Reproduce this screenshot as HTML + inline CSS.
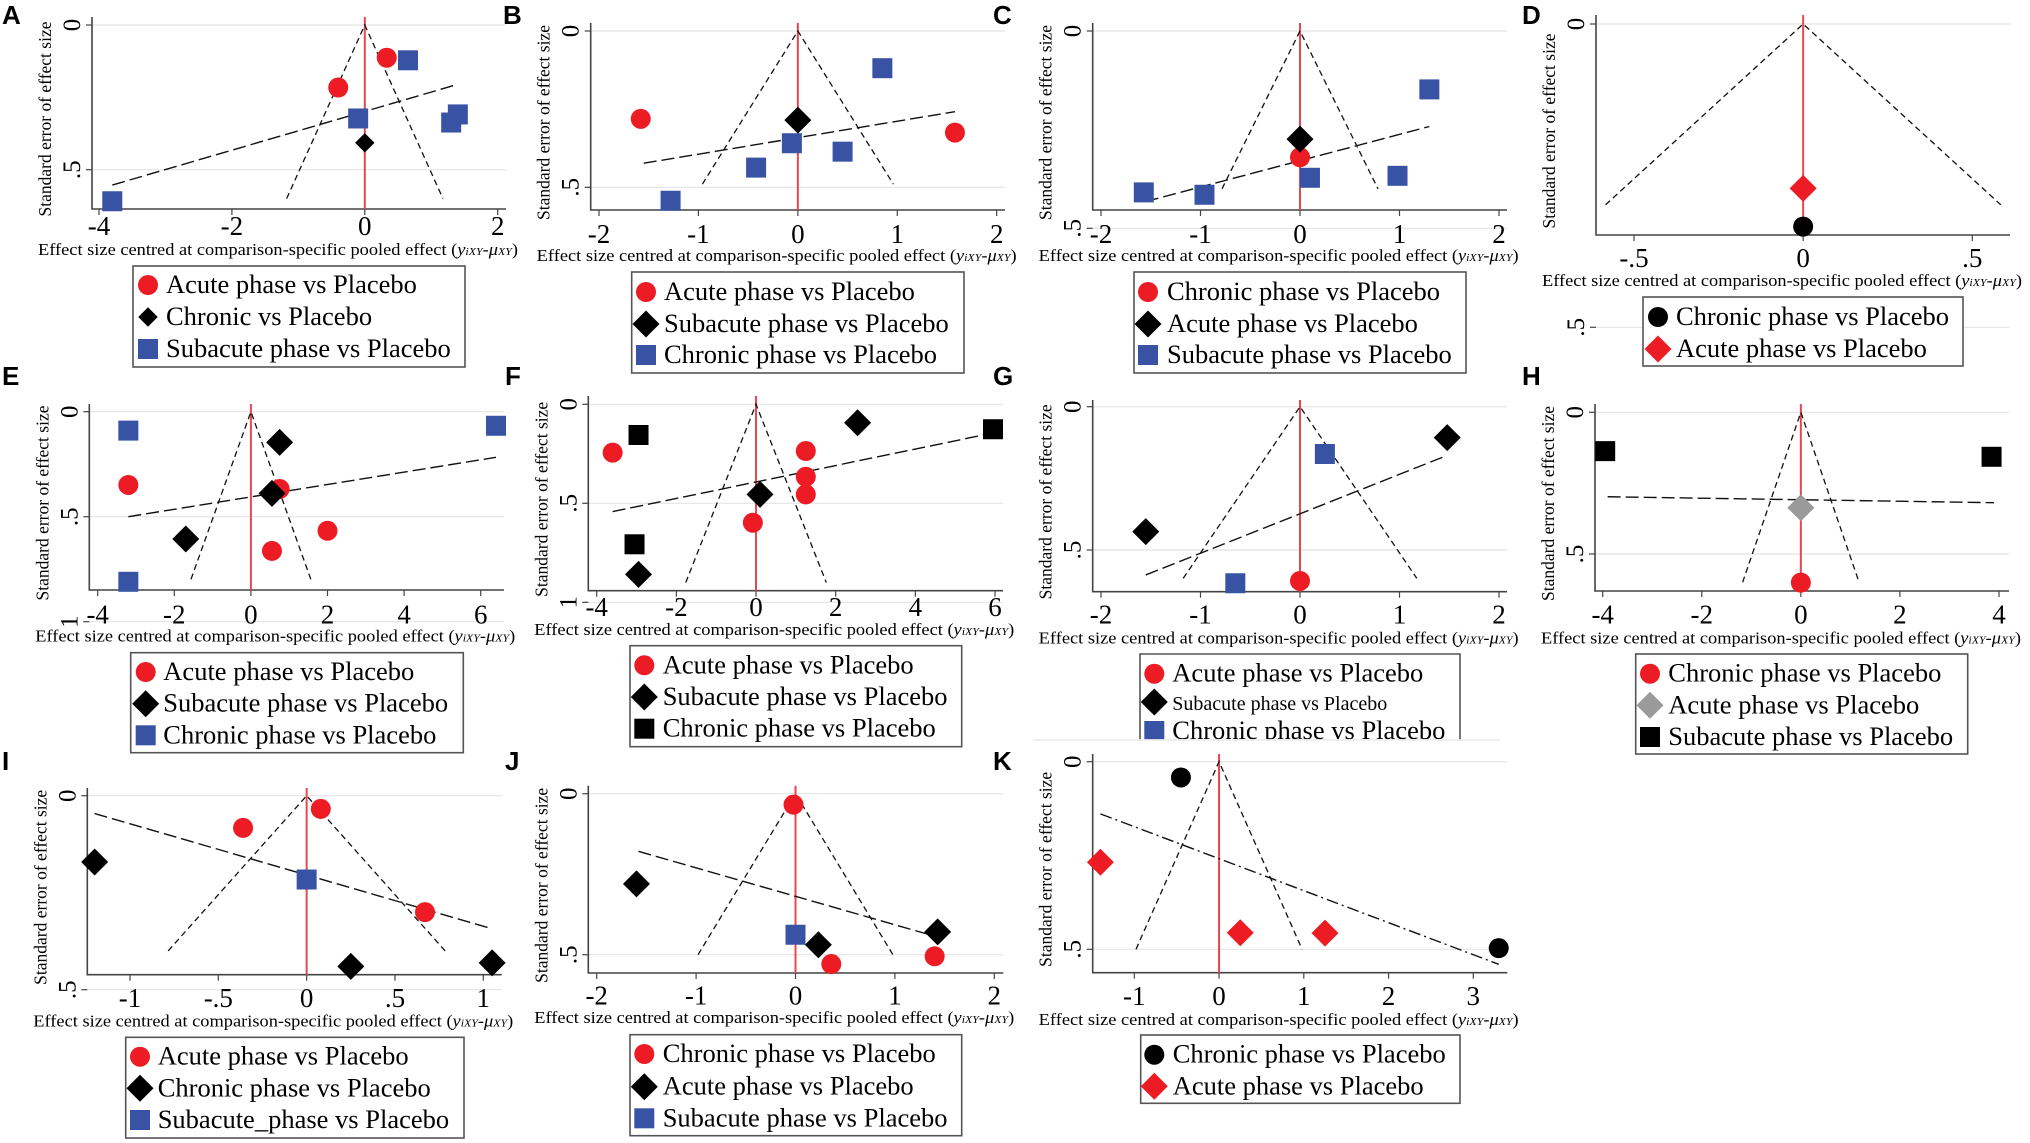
<!DOCTYPE html>
<html><head><meta charset="utf-8">
<style>
html,body{margin:0;padding:0;background:#fff;}
svg{display:block;}
text{font-family:"Liberation Serif",serif;}
.lbl{font-family:"Liberation Sans",sans-serif;font-weight:bold;font-size:26px;}
</style></head>
<body>
<svg id="fig" width="2030" height="1143" viewBox="0 0 2030 1143" xmlns="http://www.w3.org/2000/svg">
<rect x="0" y="0" width="2030" height="1143" fill="#fff"/>
</svg>
<script>
// ---------- data (effect size x, standard error se, group index) ----------
const aX=[-0.4,0.33,0,0.65,-0.1,1.3,1.4,-3.8];
const aSE=[0.216,0.113,0.407,0.122,0.323,0.337,0.309,0.609];
const aG=[0,0,1,2,2,2,2,2];
const aFit=[-3.8,0.553,1.4,0.205];
const aLegend=["Acute phase vs Placebo","Chronic vs Placebo","Subacute phase vs Placebo"];
const aXTicks=[-4,-2,0,2];

const bX=[-1.58,1.58,0,0.85,-0.06,0.45,-0.42,-1.28];
const bSE=[0.281,0.325,0.285,0.119,0.359,0.386,0.437,0.543];
const bG=[0,0,1,2,2,2,2,2];
const bFit=[-1.55,0.423,1.58,0.258];
const bLegend=["Acute phase vs Placebo","Subacute phase vs Placebo","Chronic phase vs Placebo"];
const bXTicks=[-2,-1,0,1,2];

const cX=[0,0,1.3,0.1,0.98,-1.57,-0.96];
const cSE=[0.32,0.274,0.148,0.372,0.367,0.409,0.415];
const cG=[0,1,2,2,2,2,2];
const cFit=[-1.55,0.432,1.3,0.242];
const cLegend=["Chronic phase vs Placebo","Acute phase vs Placebo","Subacute phase vs Placebo"];
const cXTicks=[-2,-1,0,1,2];

const dX=[0,0];
const dSE=[0.334,0.271];
const dG=[0,1];
const dFit=[];
const dLegend=["Chronic phase vs Placebo","Acute phase vs Placebo"];
const dXTicks=[-0.5,0,0.5];

const eX=[-3.2,0.75,2.0,0.55,0.75,0.55,-1.7,-3.2,6.4,-3.2];
const eSE=[0.349,0.368,0.567,0.663,0.146,0.389,0.606,0.090,0.067,0.81];
const eG=[0,0,0,0,1,1,1,2,2,2];
const eFit=[-3.2,0.5,6.4,0.217];
const eLegend=["Acute phase vs Placebo","Subacute phase vs Placebo","Chronic phase vs Placebo"];
const eXTicks=[-4,-2,0,2,4,6];

const fX=[-3.6,1.25,1.25,1.25,-0.08,2.55,0.1,-2.95,-2.95,5.95,-3.05];
const fSE=[0.244,0.236,0.366,0.455,0.598,0.093,0.455,0.859,0.155,0.126,0.707];
const fG=[0,0,0,0,0,1,1,1,2,2,2];
const fFit=[-3.6,0.542,5.9,0.147];
const fLegend=["Acute phase vs Placebo","Subacute phase vs Placebo","Chronic phase vs Placebo"];
const fXTicks=[-4,-2,0,2,4,6];

const gX=[0,1.48,-1.55,0.25,-0.65];
const gSE=[0.608,0.108,0.436,0.165,0.616];
const gG=[0,1,1,2,2];
const gFit=[-1.55,0.587,1.45,0.174];
const gLegend=["Acute phase vs Placebo","Subacute phase vs Placebo","Chronic phase vs Placebo"];
const gXTicks=[-2,-1,0,1,2];

const hX=[0,0,-3.95,3.85];
const hSE=[0.601,0.337,0.137,0.157];
const hG=[0,1,2,2];
const hFit=[-3.9,0.298,3.9,0.319];
const hLegend=["Chronic phase vs Placebo","Acute phase vs Placebo","Subacute phase vs Placebo"];
const hXTicks=[-4,-2,0,2,4];

const iX=[-0.36,0.08,0.67,-1.2,0.25,1.05,0];
const iSE=[0.083,0.034,0.30,0.171,0.44,0.431,0.216];
const iG=[0,0,0,1,1,1,2];
const iFit=[-1.2,0.046,1.05,0.343];
const iLegend=["Acute phase vs Placebo","Chronic phase vs Placebo","Subacute_phase vs Placebo"];
const iXTicks=[-1,-0.5,0,0.5,1];

const jX=[0,1.43,0.23,-1.6,-0.02,0.36,1.4];
const jSE=[0.438,0.429,0.469,0.280,0.034,0.529,0.505];
const jG=[2,1,1,1,0,0,0];
const jFit=[-1.58,0.179,1.35,0.438];
const jLegend=["Chronic phase vs Placebo","Acute phase vs Placebo","Subacute phase vs Placebo"];
const jXTicks=[-2,-1,0,1,2];

const kX=[-0.45,3.3,-1.4,0.25,1.25];
const kSE=[0.042,0.497,0.268,0.456,0.457];
const kG=[0,0,1,1,1];
const kFit=[-1.4,0.139,3.3,0.54];
const kLegend=["Chronic phase vs Placebo","Acute phase vs Placebo"];
const kXTicks=[-1,0,1,2,3];

const funnelMax={A:0.60,B:0.49,C:0.40,D:0.298,E:0.798,F:0.90,G:0.599,H:0.6,I:0.40,J:0.5,K:0.5};

// ---------- layout (pixels) ----------
const RED="#ed1c24",BLUE="#3953a4",BLK="#000",GRAY="#9a9a9a";
const panels=[
 {id:"A",x:aX,se:aSE,g:aG,fit:aFit,leg:aLegend,xt:aXTicks,yt:[0,0.5],
  L:92,T:17,B:209,R:506,xa:[-4,99],xb:[2,497.7],ya:25,yb:169.7,tb:235,ttl:255,
  box:[133,266,465,367],rows:[293,325,357],mx:148,tx:166,mk:[["c",RED],["d",BLK,0.72],["s",BLUE]],lab:[2,24]},
 {id:"B",x:bX,se:bSE,g:bG,fit:bFit,leg:bLegend,xt:bXTicks,yt:[0,0.5],
  L:590.7,T:23,B:210,R:1005,xa:[-2,599],xb:[2,996.7],ya:31,yb:187.3,tb:243,ttl:261,
  box:[631.7,272,964,373],rows:[300,332,363],mx:646,tx:664,mk:[["c",RED],["d",BLK],["s",BLUE]],lab:[503,24]},
 {id:"C",x:cX,se:cSE,g:cG,fit:cFit,leg:cLegend,xt:cXTicks,yt:[0,0.5],
  L:1092.7,T:23,B:210,R:1507,xa:[-2,1101],xb:[2,1499],ya:31,yb:228.3,tb:243,ttl:261,
  box:[1134,272,1466,373],rows:[300,332,363],mx:1148,tx:1167,mk:[["c",RED],["d",BLK],["s",BLUE]],lab:[993,24]},
 {id:"D",x:dX,se:dSE,g:dG,fit:dFit,leg:dLegend,xt:dXTicks,yt:[0,0.5],
  L:1596,T:15,B:235,R:2010,xa:[-0.5,1634],xb:[0.5,1972.3],ya:24,yb:327.3,tb:267,ttl:286,
  box:[1643,297,1963,366],rows:[325,357],mx:1658,tx:1676,mk:[["c",BLK],["d",RED]],lab:[1522,24]},
 {id:"E",x:eX,se:eSE,g:eG,fit:eFit,leg:eLegend,xt:eXTicks,yt:[0,0.5,1],
  L:89.3,T:404,B:590,R:504,xa:[-4,97.7],xb:[6,480.7],ya:411.7,yb:516.7,tb:623.3,ttl:641.7,
  box:[130.7,652.7,463.3,752.7],rows:[680,711.7,743.3],mx:145.7,tx:163.3,mk:[["c",RED],["d",BLK],["s",BLUE]],lab:[2,385]},
 {id:"F",x:fX,se:fSE,g:fG,fit:fFit,leg:fLegend,xt:fXTicks,yt:[0,0.5,1],
  L:588.3,T:396,B:590.7,R:1003,xa:[-4,596.7],xb:[6,995],ya:404.3,yb:503.3,tb:616,ttl:635,
  box:[630,645.7,961.7,746.7],rows:[673.3,705,736.7],mx:644.3,tx:662.7,mk:[["c",RED],["d",BLK],["s",BLK]],lab:[505,385]},
 {id:"G",x:gX,se:gSE,g:gG,fit:gFit,leg:gLegend,xt:gXTicks,yt:[0,0.5],
  L:1092.7,T:400,B:591.7,R:1507,xa:[-2,1101],xb:[2,1499],ya:406.7,yb:550,tb:623.3,ttl:643.3,
  box:[1140,654,1460,739.3],rows:[681.7,710,739],mx:1154.3,tx:1172.3,mk:[["c",RED],["d",BLK],["s",BLUE]],lab:[993,385],clip:true,rowFont:[26.5,20,26.5]},
 {id:"H",x:hX,se:hSE,g:hG,fit:hFit,leg:hLegend,xt:hXTicks,yt:[0,0.5],
  L:1595,T:404,B:591,R:2009,xa:[-4,1602.7],xb:[4,1999],ya:412.3,yb:554,tb:623.3,ttl:643.3,
  box:[1635.7,654,1967.7,754],rows:[681.7,713.3,745],mx:1650,tx:1668.3,mk:[["c",RED],["d",GRAY],["s",BLK]],lab:[1522,385]},
 {id:"I",x:iX,se:iSE,g:iG,fit:iFit,leg:iLegend,xt:iXTicks,yt:[0,0.5],
  L:87.3,T:788,B:974.7,R:501.7,xa:[-1,130],xb:[1,483.3],ya:795.7,yb:989.7,tb:1007,ttl:1026.3,
  box:[125.7,1037.3,464,1138],rows:[1064.7,1096.3,1128],mx:140,tx:157.7,mk:[["c",RED],["d",BLK],["s",BLUE]],lab:[2,770]},
 {id:"J",x:jX,se:jSE,g:jG,fit:jFit,leg:jLegend,xt:jXTicks,yt:[0,0.5],
  L:588.3,T:785.7,B:973,R:1003.3,xa:[-2,596.7],xb:[2,994.3],ya:793.7,yb:954.7,tb:1004.7,ttl:1023,
  box:[630,1034.7,961.7,1135.7],rows:[1062,1094.7,1126.3],mx:644.3,tx:662.7,mk:[["c",RED],["d",BLK],["s",BLUE]],lab:[505,770]},
 {id:"K",x:kX,se:kSE,g:kG,fit:kFit,leg:kLegend,xt:kXTicks,yt:[0,0.5],
  L:1092.7,T:754,B:972.7,R:1507.3,xa:[-1,1134.3],xb:[3,1473.3],ya:761.7,yb:949.3,tb:1005,ttl:1025,
  box:[1140.7,1035,1460,1103.3],rows:[1062.7,1094.3],mx:1154.3,tx:1172.7,mk:[["c",BLK],["d",RED]],lab:[993,770],dashdot:true}
];

const NS="http://www.w3.org/2000/svg";
const SERIF='"Liberation Serif", serif';
const svg=document.getElementById("fig");
function mk(tag,attrs,parent){const e=document.createElementNS(NS,tag);for(const k in attrs)e.setAttribute(k,attrs[k]);(parent||svg).appendChild(e);return e;}
function fmt(v){if(v===0)return "0";let s=String(v);s=s.replace("0.",".");return s;}

function marker(parent,type,color,cx,cy,scale){
  scale=scale||1;let e;
  if(type==="c"){e=mk("circle",{cx:cx,cy:cy,r:10*scale,fill:color},parent);}
  else if(type==="s"){const h=10*scale;e=mk("rect",{x:cx-h,y:cy-h,width:2*h,height:2*h,fill:color},parent);}
  else {const h=13.5*scale;e=mk("polygon",{points:`${cx},${cy-h} ${cx+h},${cy} ${cx},${cy+h} ${cx-h},${cy}`,fill:color},parent);}
  return e;
}

panels.forEach(p=>{
  const grp=mk("g",{});
  
  
  const sx=v=>p.xa[1]+(v-p.xa[0])*(p.xb[1]-p.xa[1])/(p.xb[0]-p.xa[0]);
  const sy=v=>p.ya+v*(p.yb-p.ya)/0.5;
  const lab=mk("text",{x:p.lab[0],y:p.lab[1],class:"lbl"},grp);lab.textContent=p.id;
  
  
  p.yt.forEach(t=>{
    const y=sy(t);
    const gl=mk("line",{x1:p.L,y1:y,x2:p.R,y2:y,stroke:"#e4e4e4","stroke-width":1.2},grp);
    
    
    mk("line",{x1:p.L-6,y1:y,x2:p.L,y2:y,stroke:"#444","stroke-width":1.2},grp);
    const tx=mk("text",{x:0,y:0,"font-size":25,"font-family":SERIF,"text-anchor":"middle",transform:`translate(${p.L-12},${y}) rotate(-90)`},grp);
    tx.textContent=fmt(t);
    
    
  });
  p.xt.forEach(t=>{
    const x=sx(t);
    mk("line",{x1:x,y1:p.B,x2:x,y2:p.B+6,stroke:"#444","stroke-width":1.2},grp);
    const tx=mk("text",{x:x,y:p.tb,"font-size":27,"font-family":SERIF,"text-anchor":"middle"},grp);
    tx.textContent=(t<0?"-":"")+fmt(Math.abs(t));
    
    
  });
  const ax=mk("path",{d:`M${p.L},${p.T} V${p.B} H${p.R}`,fill:"none",stroke:"#444","stroke-width":1.6},grp);
  
  
  const xt=mk("text",{x:p.L-54,y:p.ttl,"font-size":17,"font-family":SERIF,textLength:480,lengthAdjust:"spacingAndGlyphs"},grp);
  xt.innerHTML='Effect size centred at comparison-specific pooled effect (<tspan font-style="italic">y<tspan font-size="11">iXY</tspan>-μ<tspan font-size="11">XY</tspan></tspan>)';
  
  
  const yc=(p.T+p.B)/2+6;
  const yt=mk("text",{x:0,y:0,"font-size":17.5,"font-family":SERIF,"text-anchor":"middle",transform:`translate(${p.L-41},${yc}) rotate(-90)`},grp);
  yt.textContent="Standard error of effect size";
  
  
  const nl=mk("line",{x1:sx(0),y1:p.T,x2:sx(0),y2:p.B,stroke:"#e8474f","stroke-width":2},grp);
  
  
  const fm=funnelMax[p.id];
  const fn=mk("path",{d:`M${sx(-1.96*fm)},${sy(fm)} L${sx(0)},${sy(0)} L${sx(1.96*fm)},${sy(fm)}`,fill:"none",stroke:"#111","stroke-width":1.3,"stroke-dasharray":"6,4"},grp);
  
  
  if(p.fit.length===4){
    const fl=mk("line",{x1:sx(p.fit[0]),y1:sy(p.fit[1]),x2:sx(p.fit[2]),y2:sy(p.fit[3]),stroke:"#111","stroke-width":1.4,"stroke-dasharray":p.dashdot?"12,4,2,4":"13,5"},grp);
    
    
  }
  p.x.forEach((v,i)=>{
    const m=p.mk[p.g[i]];
    const e=marker(grp,m[0],m[1],sx(v),sy(p.se[i]),m[2]);
    
    
  });
  const lg=mk("g",{},grp);
  
  
  const [bx1,by1,bx2,by2]=p.box;
  if(p.clip){
    mk("rect",{x:bx1,y:by1,width:bx2-bx1,height:by2-by1,fill:"#fff"},lg);
    mk("path",{d:`M${bx1},${by2} V${by1} H${bx2} V${by2}`,fill:"none",stroke:"#555","stroke-width":1.6},lg);
    const cp=mk("clipPath",{id:"clipG"},lg);
    mk("rect",{x:bx1,y:by1,width:bx2-bx1,height:by2-by1},cp);
  } else {
    mk("rect",{x:bx1,y:by1,width:bx2-bx1,height:by2-by1,fill:"#fff",stroke:"#555","stroke-width":1.6},lg);
  }
  const inner=mk("g",p.clip?{"clip-path":"url(#clipG)"}:{},lg);
  p.leg.forEach((s,i)=>{
    const m=p.mk[i];const fs=p.rowFont?p.rowFont[i]:26.5;
    const e=marker(inner,m[0],m[1],p.mx,p.rows[i]-8,m[2]);
    
    
    const t=mk("text",{x:p.tx,y:p.rows[i],"font-size":fs,"font-family":SERIF},inner);
    t.textContent=s;
    
    
  });
});
const sep=mk("line",{x1:1033,y1:740,x2:1500,y2:740,stroke:"#eaeaea","stroke-width":1.5});


</script>
</body></html>
